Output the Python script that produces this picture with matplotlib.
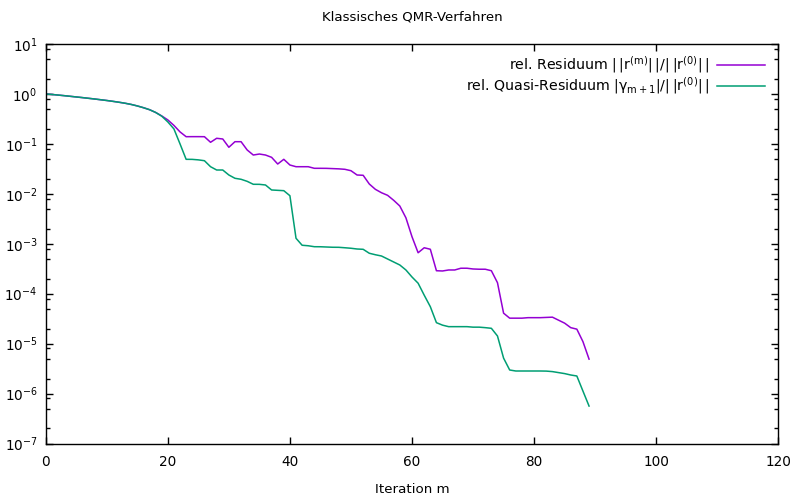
import matplotlib
matplotlib.use("Agg")
import matplotlib.pyplot as plt
import numpy as np
from matplotlib.ticker import LogLocator, FixedLocator, NullFormatter

plt.rcParams['font.family'] = ['DejaVu Sans']
plt.rcParams['mathtext.default'] = 'regular'

title = "Klassisches QMR-Verfahren"
xlabel = "Iteration m"
ts = "\u2009"
label_res = ("rel. Residuum |" + ts + "|r$^{(m)}$|" + ts + "|/|" + ts + "|r$^{(0)}$|" + ts + "|")
label_qres = ("rel. Quasi-Residuum |γ$_{m+1}$|/|" + ts + "|r$^{(0)}$|" + ts + "|")
y_major = [1e-7, 1e-6, 1e-5, 1e-4, 1e-3, 1e-2, 1e-1, 1e0, 1e1]
x_ticks = [0, 20, 40, 60, 80, 100, 120]

iterations = list(range(90))

# log10 of relative residual
log_res = [
    0.0, -0.01, -0.022, -0.034, -0.047, -0.06, -0.073, -0.087, -0.101, -0.116,
    -0.131, -0.148, -0.166, -0.186, -0.21, -0.24, -0.275, -0.315, -0.37, -0.44,
    -0.52, -0.63, -0.76, -0.856, -0.855, -0.855, -0.856, -0.968, -0.888, -0.902,
    -1.068, -0.956, -0.956, -1.122, -1.223, -1.203, -1.223, -1.269, -1.403, -1.309,
    -1.423, -1.457, -1.457, -1.457, -1.489, -1.489, -1.49, -1.495, -1.50, -1.509,
    -1.537, -1.623, -1.629, -1.803, -1.91, -1.978, -2.03, -2.13, -2.244, -2.48,
    -2.86, -3.18, -3.08, -3.11, -3.54, -3.545, -3.525, -3.525, -3.49, -3.49,
    -3.505, -3.51, -3.51, -3.54, -3.78, -4.39, -4.49, -4.49, -4.49, -4.48,
    -4.48, -4.48, -4.475, -4.47, -4.53, -4.59, -4.68, -4.71, -4.96, -5.31,
]

# log10 of relative quasi-residual
log_qres = [
    0.0, -0.01, -0.022, -0.034, -0.047, -0.06, -0.073, -0.087, -0.101, -0.116,
    -0.131, -0.148, -0.166, -0.186, -0.21, -0.24, -0.275, -0.315, -0.37, -0.445,
    -0.56, -0.70, -1.0, -1.309, -1.31, -1.32, -1.337, -1.457, -1.523, -1.523,
    -1.623, -1.689, -1.709, -1.75, -1.809, -1.81, -1.823, -1.923, -1.93, -1.937,
    -2.038, -2.89, -3.03, -3.04, -3.059, -3.06, -3.065, -3.07, -3.071, -3.08,
    -3.09, -3.105, -3.111, -3.19, -3.22, -3.245, -3.305, -3.365, -3.425, -3.525,
    -3.666, -3.79, -4.03, -4.26, -4.58, -4.63, -4.66, -4.66, -4.66, -4.66,
    -4.67, -4.67, -4.68, -4.693, -4.847, -5.29, -5.528, -5.548, -5.548, -5.548,
    -5.548, -5.548, -5.55, -5.56, -5.58, -5.60, -5.628, -5.648, -5.95, -6.25,
]

res = [10.0 ** v for v in log_res]
qres = [10.0 ** v for v in log_qres]

fig = plt.figure(figsize=(7.95, 4.99), dpi=100)
ax = fig.add_axes([0.0575, 0.1112, 0.9215, 0.8006])

ax.plot(iterations, res, color="#9400d3", lw=1.1, label=label_res)
ax.plot(iterations, qres, color="#009e73", lw=1.1, label=label_qres)

ax.set_yscale("log")
ax.set_xlim(0, 120)
ax.set_ylim(1e-7, 1e1)
ax.set_xticks(x_ticks)
ax.yaxis.set_major_locator(FixedLocator(y_major))
ax.yaxis.set_minor_locator(LogLocator(base=10, subs=[2.0, 5.0, 8.0], numticks=20))
ax.yaxis.set_minor_formatter(NullFormatter())

ax.tick_params(which="both", direction="in", top=True, right=True, labelsize=9.8,
               color="black", width=1)
ax.tick_params(which="major", length=5, pad=6)
ax.tick_params(which="minor", length=3)
ax.tick_params(axis="x", pad=8)
for s in ax.spines.values():
    s.set_linewidth(1)
    s.set_color("black")

ax.set_title(title, fontsize=9.6, pad=17)
ax.set_xlabel(xlabel, fontsize=9.6, labelpad=10)

leg = ax.legend(loc="upper right", bbox_to_anchor=(0.993, 0.995), frameon=False,
                markerfirst=False, fontsize=10.2, handlelength=3.4,
                handletextpad=0.5, labelspacing=0.0, borderaxespad=0.2)
for t in leg.get_texts():
    t.set_ha("right")

fig.savefig("out.png", dpi=100)
